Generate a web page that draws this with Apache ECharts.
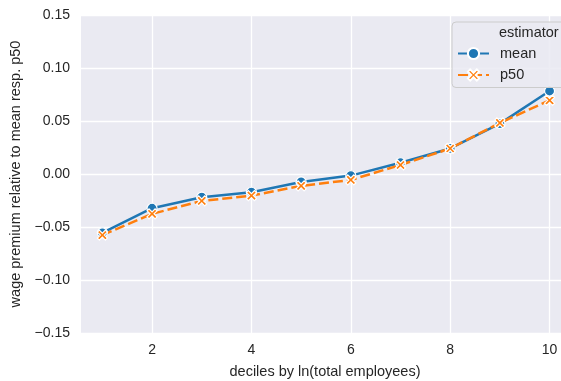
<!DOCTYPE html>
<html>
<head>
<meta charset="utf-8">
<script src="https://cdn.jsdelivr.net/npm/echarts@6/dist/echarts.min.js"></script>
<style>html,body{margin:0;padding:0;background:#fff}#c{width:561px;height:381px}</style>
</head>
<body>
<div id="c"></div>
<script>
const deciles = [1, 2, 3, 4, 5, 6, 7, 8, 9, 10];
const meanValues = [-0.0555, -0.0323, -0.0219, -0.0172, -0.0075, -0.0015, 0.0106, 0.0241, 0.0475, 0.0783];
const p50Values = [-0.0576, -0.0376, -0.0254, -0.0204, -0.0112, -0.0056, 0.0085, 0.0241, 0.0482, 0.0695];
const xTicks = [2, 4, 6, 8, 10];
const yTicks = [-0.15, -0.10, -0.05, 0.00, 0.05, 0.10, 0.15];
const seriesNames = ['mean', 'p50'];
const legendTitle = 'estimator';
const xLabel = 'deciles by ln(total employees)';
const yLabel = 'wage premium relative to mean resp. p50';

const FONT = '"Liberation Sans", Arial, sans-serif';
const TXT = '#262626';
const xPath = 'path://M2,0 L5,3 L8,0 L10,2 L7,5 L10,8 L8,10 L5,7 L2,10 L0,8 L3,5 L0,2 Z';

const chart = echarts.init(document.getElementById('c'), null, {renderer: 'canvas'});
chart.setOption({
  animation: false,
  backgroundColor: '#ffffff',
  textStyle: {fontFamily: FONT},
  grid: {left: 81, right: 0, top: 15, bottom: 48, show: true, backgroundColor: '#EAEAF2', borderWidth: 0,
    containLabel: false, outerBoundsMode: 'none'},
  xAxis: {
    type: 'value', min: 0.57, max: 10.23,
    name: xLabel, nameLocation: 'middle', nameGap: 31,
    nameTextStyle: {fontSize: 14.5, color: TXT, fontFamily: FONT, padding: [0, 0, 0, 8]},
    axisLine: {show: false}, axisTick: {show: false, customValues: xTicks},
    axisLabel: {customValues: xTicks, fontSize: 14, color: TXT, margin: 10, fontFamily: FONT},
    splitLine: {show: true, lineStyle: {color: '#ffffff', width: 1.3}}
  },
  yAxis: {
    type: 'value', min: yTicks[0], max: yTicks[yTicks.length - 1], interval: 0.05,
    name: yLabel, nameLocation: 'middle', nameGap: 51,
    nameTextStyle: {fontSize: 14.5, color: TXT, fontFamily: FONT},
    axisLine: {show: false}, axisTick: {show: false},
    axisLabel: {fontSize: 14, color: TXT, margin: 11, fontFamily: FONT,
      formatter: v => v.toFixed(2).replace('-', '\u2212')},
    splitLine: {show: true, lineStyle: {color: '#ffffff', width: 1.3}}
  },
  legend: {
    data: seriesNames, orient: 'vertical', left: 452, top: 22,
    padding: [24, 90, 5, 5], itemGap: 6.5, itemWidth: 31, itemHeight: 14,
    backgroundColor: 'rgba(234,234,242,0.85)', borderColor: '#cccccc', borderWidth: 1, borderRadius: 4,
    textStyle: {fontSize: 14.5, color: TXT, fontFamily: FONT, padding: [0, 0, 0, 6]}
  },
  graphic: [{
    type: 'text', left: 499, top: 25, z: 100,
    style: {text: legendTitle, fill: TXT, font: '14.5px ' + FONT}
  }],
  series: [
    {
      name: seriesNames[0], type: 'line', data: deciles.map((d, i) => [d, meanValues[i]]),
      color: '#1f77b4', lineStyle: {width: 2.5, color: '#1f77b4'},
      symbol: 'circle', symbolSize: 10, showAllSymbol: true,
      itemStyle: {color: '#1f77b4', borderColor: '#ffffff', borderWidth: 1.2}
    },
    {
      name: seriesNames[1], type: 'line', data: deciles.map((d, i) => [d, p50Values[i]]),
      color: '#ff7f0e', lineStyle: {width: 2.5, color: '#ff7f0e', type: [10, 4]},
      symbol: xPath, symbolSize: 10, showAllSymbol: true,
      itemStyle: {color: '#ff7f0e', borderColor: '#ffffff', borderWidth: 1.2}
    }
  ]
});
</script>
</body>
</html>
